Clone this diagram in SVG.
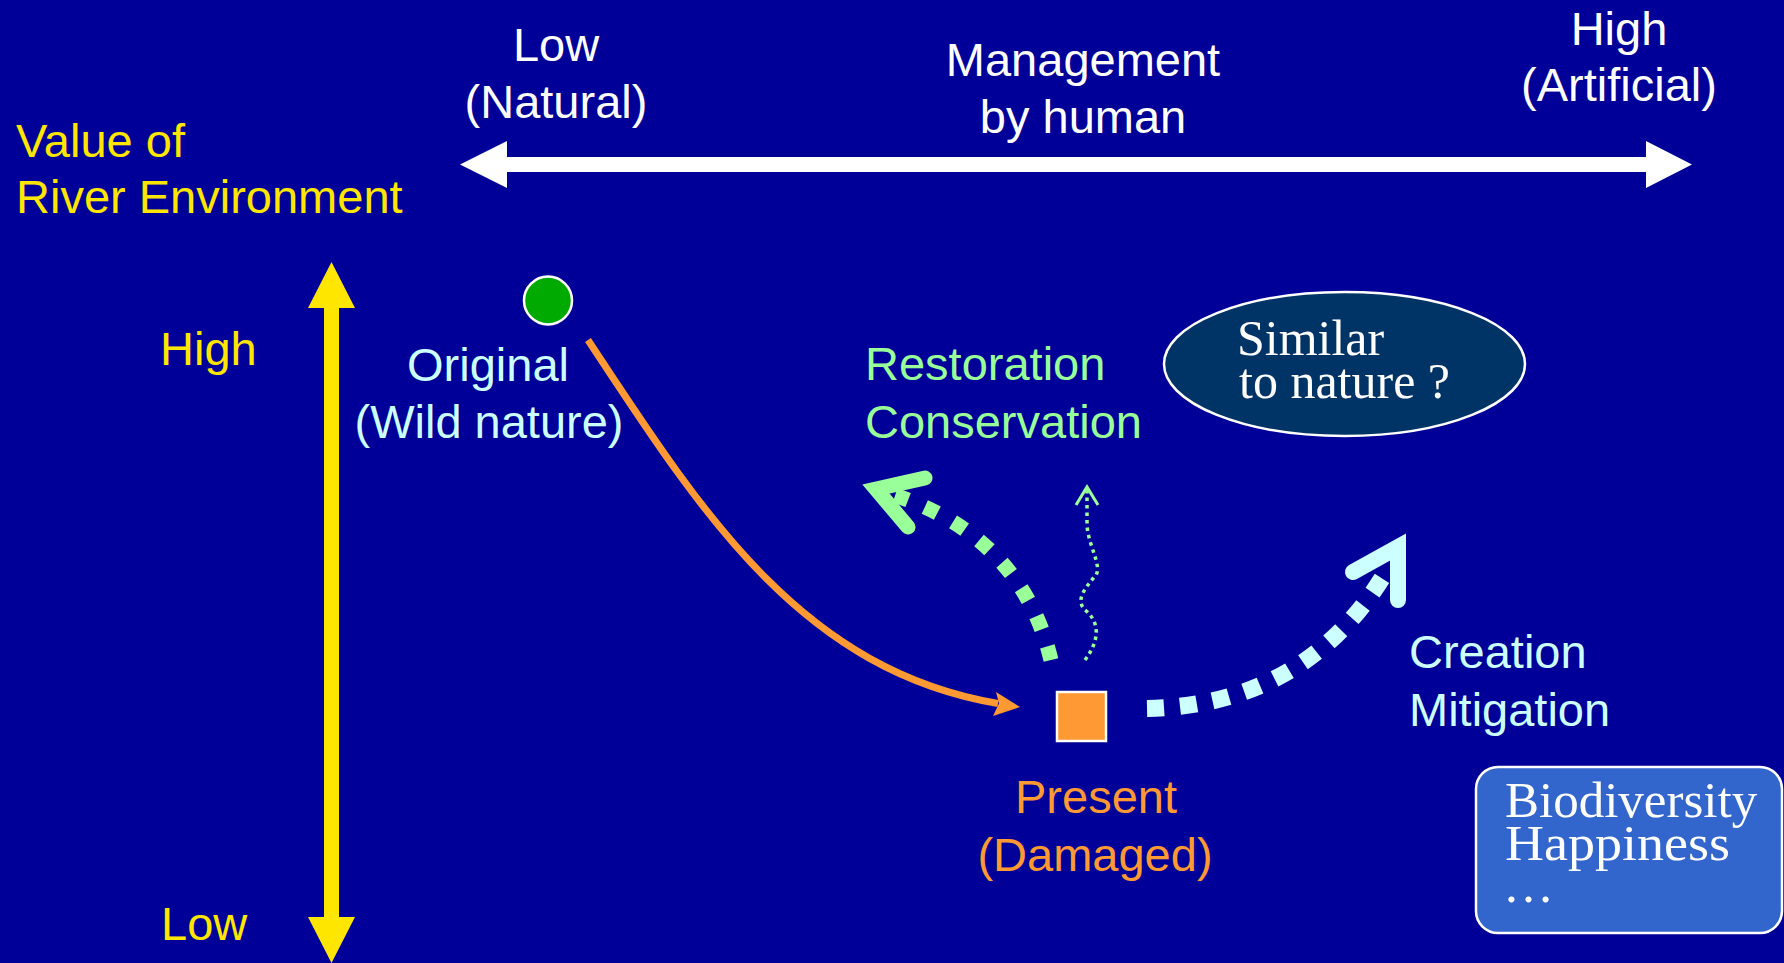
<svg xmlns="http://www.w3.org/2000/svg" width="1784" height="963" viewBox="0 0 1784 963">
<style>
.s{font-family:"Liberation Sans",Arial,sans-serif;font-size:47px}
.r{font-family:"Liberation Serif","Times New Roman",serif;fill:#fff}
.w{fill:#fff}.y{fill:#FFE600}.c{fill:#CCFFFF}.g{fill:#99FF99}.o{fill:#FF9933}
.mid{text-anchor:middle}
</style>
<rect width="1784" height="963" fill="#000099"/>
<g id="axis-x">
<polygon fill="#fff" points="460,164.5 507,141 507,157 1646,157 1646,141 1692,164.5 1646,188 1646,172 507,172 507,188"/>
<text class="s w mid" x="556" y="61">Low</text>
<text class="s w mid" x="556" y="118">(Natural)</text>
<text class="s w mid" x="1083" y="76">Management</text>
<text class="s w mid" x="1083" y="133">by human</text>
<text class="s w mid" x="1619" y="45">High</text>
<text class="s w mid" x="1619" y="101">(Artificial)</text>
</g>
<g id="axis-y">
<polygon fill="#FFE600" points="331.5,262 355,308 339,308 339,917 355,917 331.5,963 308,917 324,917 324,308 308,308"/>
<text class="s y" x="16" y="157">Value of</text>
<text class="s y" x="16" y="213">River Environment</text>
<text class="s y" x="160" y="365">High</text>
<text class="s y" x="161" y="940">Low</text>
</g>
<g id="connectors">
<path d="M588,340 C700,510 800,670 998,703.5" fill="none" stroke="#FF9933" stroke-width="7"/>
<polygon fill="#FF9933" points="1020,707 996,692 999,703.5 993,716"/>
<path d="M1051,660 Q1020,530 878,490" fill="none" stroke="#99FF99" stroke-width="15" stroke-dasharray="14 18"/>
<path d="M925,478 L876,489 L908,527" fill="none" stroke="#99FF99" stroke-width="15" stroke-linecap="round" stroke-linejoin="miter" stroke-miterlimit="10"/>
<path d="M1085,660 C1100,640 1100,622 1085,610 C1075,600 1085,588 1096,575 C1102,565 1088,545 1087,525 L1087,490" fill="none" stroke="#99FF99" stroke-width="3.5" stroke-dasharray="3.5 4"/>
<path d="M1076,505 L1087,487 L1098,505" fill="none" stroke="#99FF99" stroke-width="3"/>
<path d="M1147,708.5 Q1310,705 1390,565" fill="none" stroke="#CCFFFF" stroke-width="17" stroke-dasharray="17 16"/>
<path d="M1353,572 L1398,547 L1398,600" fill="none" stroke="#CCFFFF" stroke-width="16" stroke-linecap="round" stroke-linejoin="miter" stroke-miterlimit="10"/>
</g>
<g id="original">
<circle cx="548" cy="300.5" r="24" fill="#00AA00" stroke="#fff" stroke-width="2.5"/>
<text class="s c mid" x="488" y="381">Original</text>
<text class="s c mid" x="489" y="438">(Wild nature)</text>
</g>
<g id="present">
<rect x="1057" y="692" width="49" height="49" fill="#FF9933" stroke="#fff" stroke-width="2.5"/>
<text class="s o mid" x="1096" y="813">Present</text>
<text class="s o mid" x="1095" y="871">(Damaged)</text>
</g>
<g id="restoration">
<text class="s g" x="865" y="380">Restoration</text>
<text class="s g" x="865" y="438">Conservation</text>
</g>
<g id="creation">
<text class="s c" x="1409" y="668">Creation</text>
<text class="s c" x="1409" y="726">Mitigation</text>
</g>
<g id="similar">
<ellipse cx="1344.5" cy="364" rx="180.5" ry="72" fill="#003366" stroke="#fff" stroke-width="2.5"/>
<text class="r" x="1237" y="355" font-size="50">Similar</text>
<text class="r" x="1239" y="398" font-size="50">to nature ?</text>
</g>
<g id="biodiversity">
<rect x="1476" y="767" width="306" height="166" rx="22" fill="#3366CC" stroke="#fff" stroke-width="2.5"/>
<text class="r" x="1505" y="817" font-size="51">Biodiversity</text>
<text class="r" x="1505" y="860" font-size="51" textLength="225" lengthAdjust="spacingAndGlyphs">Happiness</text>
<text class="r" x="1503" y="902" font-size="51">…</text>
</g>
</svg>
